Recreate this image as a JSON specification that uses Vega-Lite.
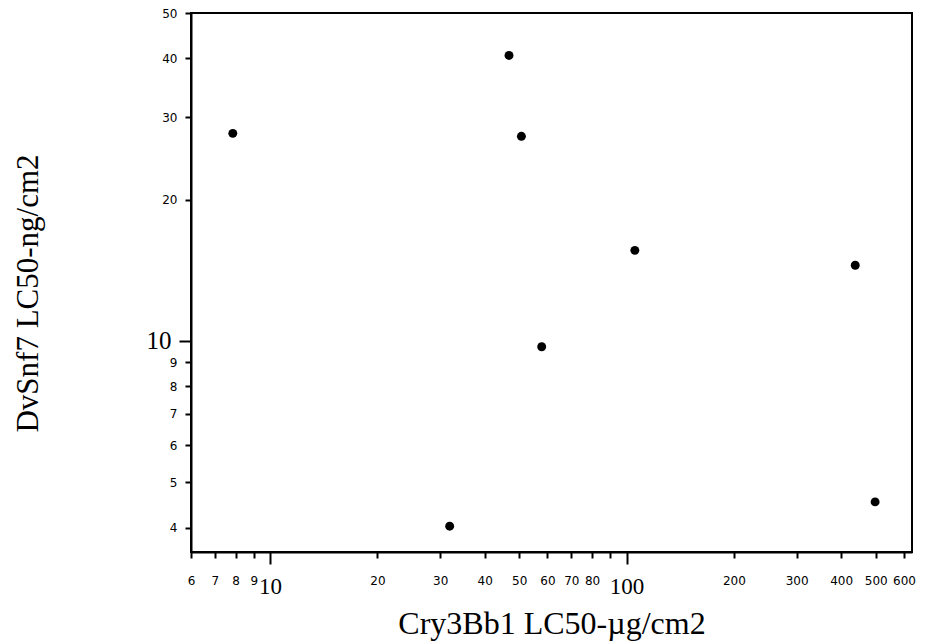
{
  "$schema": "https://vega.github.io/schema/vega-lite/v6.json",
  "width": 721,
  "height": 539,
  "autosize": "none",
  "padding": {"left": 191, "top": 13, "right": 15, "bottom": 90},
  "background": "white",
  "config": {
    "view": {"stroke": "black", "strokeWidth": 2},
    "axis": {"grid": false, "domainColor": "black", "domainWidth": 2, "tickColor": "black", "tickWidth": 2, "labelColor": "black", "titleColor": "black"}
  },
  "data": {
    "values": [
      {"cry": 7.86, "dv": 27.7},
      {"cry": 46.8, "dv": 40.6},
      {"cry": 50.7, "dv": 27.3},
      {"cry": 105.5, "dv": 15.6},
      {"cry": 438, "dv": 14.5},
      {"cry": 57.8, "dv": 9.72},
      {"cry": 31.9, "dv": 4.03},
      {"cry": 498, "dv": 4.54}
    ]
  },
  "mark": {"type": "point", "filled": true, "color": "black", "opacity": 1, "size": 80},
  "encoding": {
    "x": {
      "field": "cry", "type": "quantitative",
      "scale": {"type": "log", "domain": [6, 632], "nice": false},
      "axis": {
        "title": "Cry3Bb1 LC50-µg/cm2",
        "titleFont": "Liberation Serif", "titleFontSize": 32, "titleFontWeight": "normal",
        "titleY": 81, "titleBaseline": "alphabetic",
        "values": [6, 7, 8, 9, 10, 20, 30, 40, 50, 60, 70, 80, 90, 100, 200, 300, 400, 500, 600],
        "labelExpr": "datum.value == 90 ? '' : format(datum.value, 'd')",
        "labelFont": {"condition": {"test": "datum.value == 10 || datum.value == 100", "value": "Liberation Serif"}, "value": "DejaVu Sans"},
        "labelFontSize": {"condition": {"test": "datum.value == 10 || datum.value == 100", "value": 23}, "value": 12},
        "tickSize": {"condition": {"test": "datum.value == 10 || datum.value == 100", "value": 12}, "value": 6},
        "labelPadding": 22,
        "labelBaseline": "middle",
        "labelOverlap": false,
        "labelFlush": false,
        "encode": {"labels": {"update": {"dy": {"signal": "datum.value == 10 || datum.value == 100 ? -3 : 0"}}}}
      }
    },
    "y": {
      "field": "dv", "type": "quantitative",
      "scale": {"type": "log", "domain": [3.55, 50], "nice": false},
      "axis": {
        "title": "DvSnf7 LC50-ng/cm2",
        "titleFont": "Liberation Serif", "titleFontSize": 31, "titleFontWeight": "normal",
        "titleX": -163, "titleY": 280, "titleAngle": -90, "titleAlign": "center", "titleBaseline": "middle",
        "values": [4, 5, 6, 7, 8, 9, 10, 20, 30, 40, 50],
        "format": "d",
        "labelFont": {"condition": {"test": "datum.value == 10", "value": "Liberation Serif"}, "value": "DejaVu Sans"},
        "labelFontSize": {"condition": {"test": "datum.value == 10", "value": 25}, "value": 12},
        "tickSize": {"condition": {"test": "datum.value == 10", "value": 12}, "value": 6},
        "labelPadding": 8,
        "labelOverlap": false,
        "labelFlush": false,
        "encode": {"labels": {"update": {"dx": {"signal": "datum.value == 10 ? 6 : 0"}}}}
      }
    }
  }
}
